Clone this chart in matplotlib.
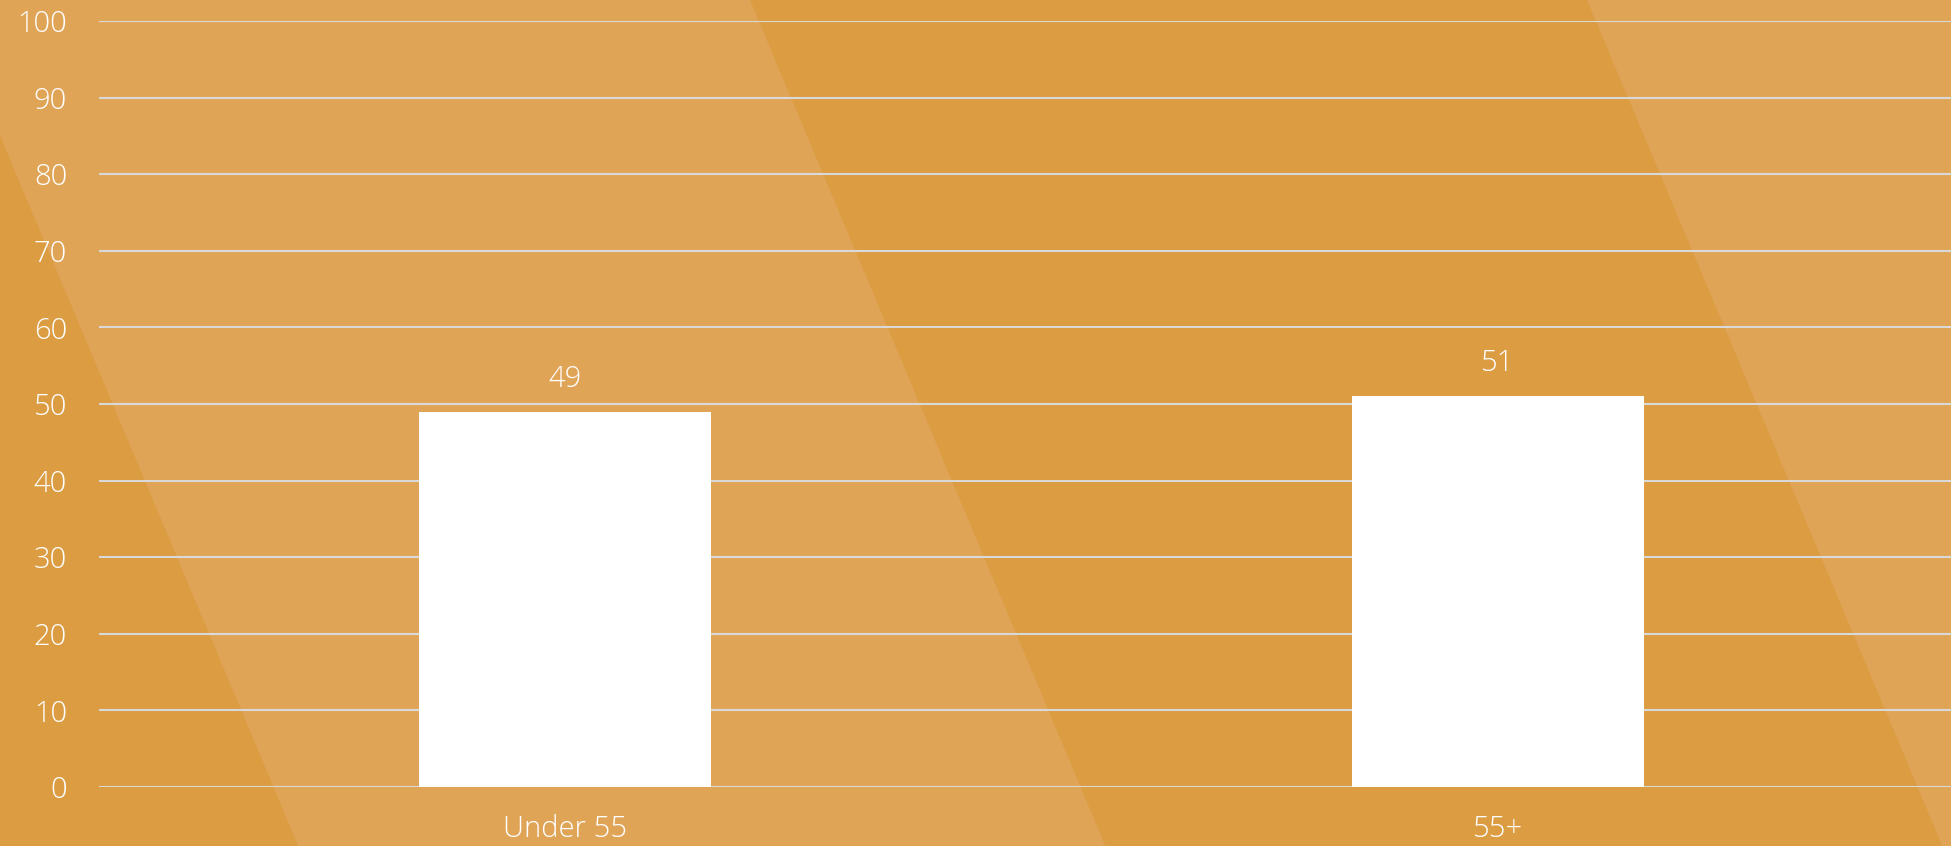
import matplotlib
matplotlib.use('Agg')
import matplotlib.pyplot as plt
from matplotlib.patches import Polygon

categories = ['Under 55', '55+']
values = [49, 51]
y_ticks = [0, 10, 20, 30, 40, 50, 60, 70, 80, 90, 100]

W, H = 1951, 846
bg_dark = '#DB9C42'
bg_light = '#E0A457'
text_font = ['Open Sans', 'DejaVu Sans']

fig = plt.figure(figsize=(W / 100, H / 100), dpi=100, facecolor=bg_dark)

# background layer holding the diagonal light stripes (pixel coords, y down)
bg = fig.add_axes([0, 0, 1, 1], zorder=0)
bg.set_xlim(0, W)
bg.set_ylim(H, 0)
bg.axis('off')


def band(x_top_left, width, slope=0.42):
    pts = [(x_top_left, 0), (x_top_left + width, 0),
           (x_top_left + width + slope * H, H), (x_top_left + slope * H, H)]
    return Polygon(pts, closed=True, facecolor=bg_light, edgecolor='none')


bg.add_patch(band(-57, 807))
bg.add_patch(band(1587, 807))

ax = fig.add_axes([99 / W, (H - 787) / H, (W - 99) / W, (787 - 21) / H], zorder=1)
ax.patch.set_alpha(0)

x = range(len(categories))
bars = ax.bar(x, values, width=0.313, color='white', zorder=3)
for b, v in zip(bars, values):
    ax.annotate(f'{v}', (b.get_x() + b.get_width() / 2, v),
                xytext=(0, 13), textcoords='offset points',
                ha='center', va='bottom', color='white', fontsize=21,
                family=text_font, fontweight='light')

ax.set_xlim(-0.4995, 1.4855)
ax.set_ylim(0, 100)
ax.set_yticks(y_ticks)
ax.set_xticks(list(x))
ax.set_xticklabels(categories)
ax.set_axisbelow(True)
ax.yaxis.grid(True, color='#D9D9D9', lw=1.5)
ax.tick_params(length=0, colors='white', labelsize=21)
ax.tick_params(axis='y', pad=23)
ax.tick_params(axis='x', pad=20)
for lbl in ax.get_xticklabels() + ax.get_yticklabels():
    lbl.set_family(text_font)
    lbl.set_fontweight('light')
for s in ax.spines.values():
    s.set_visible(False)

fig.savefig('out.png', dpi=100, facecolor=bg_dark)
